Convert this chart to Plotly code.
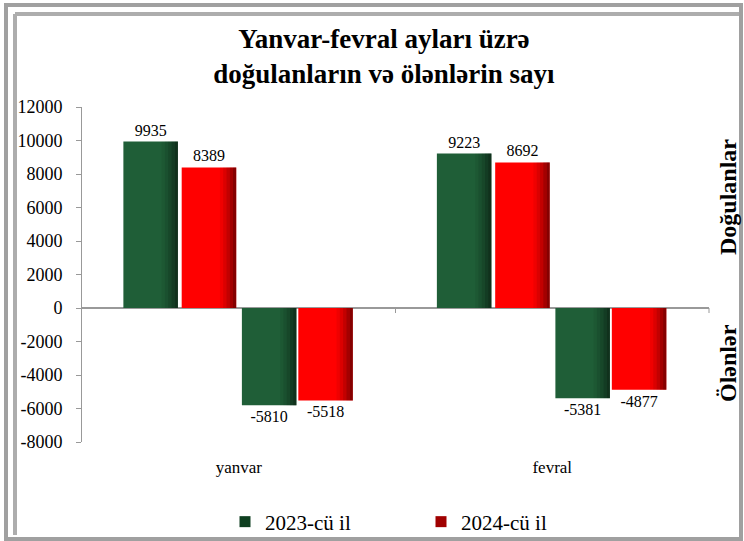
import plotly.graph_objects as go

# Monthly counts
months = ["yanvar", "fevral"]
births_2023 = [9935, 9223]
births_2024 = [8389, 8692]
deaths_2023 = [-5810, -5381]
deaths_2024 = [-5518, -4877]

year_labels = ["2023-cü il", "2024-cü il"]
y_ticks = [-8000, -6000, -4000, -2000, 0, 2000, 4000, 6000, 8000, 10000, 12000]

GREEN = "#1F5E37"
RED = "#FF0000"
SERIF = "Liberation Serif"

W, H = 744, 541
ML, MR, MT, MB = 82, 35, 107, 99

BAR_W = 0.174
OFFSETS = [-0.368, -0.182, 0.010, 0.190]


def px(x):
    return (x - ML) / (W - ML - MR)


def py(y):
    return (H - MB - y) / (H - MT - MB)


fig = go.Figure()

series = [
    (births_2023, GREEN, "2023-b"),
    (births_2024, RED, "2024-b"),
    (deaths_2023, GREEN, "2023-d"),
    (deaths_2024, RED, "2024-d"),
]

# shading strips along the right edge of every bar
SHADE = [(0.70, 0.06), (0.76, 0.14), (0.82, 0.24), (0.88, 0.36), (0.94, 0.48)]

for (vals, col, nm), off in zip(series, OFFSETS):
    fig.add_trace(go.Bar(
        x=months, y=vals, name=nm, showlegend=False,
        width=BAR_W, offset=off,
        marker=dict(color=col, line=dict(width=0)),
        text=[str(v) for v in vals], textposition="outside",
        textfont=dict(family=SERIF, size=16, color="black"),
        cliponaxis=False, hoverinfo="skip",
    ))
    for i, (start, alpha) in enumerate(SHADE):
        end = SHADE[i + 1][0] if i + 1 < len(SHADE) else 1.0
        fig.add_trace(go.Bar(
            x=months, y=vals, showlegend=False,
            width=BAR_W * (end - start), offset=off + BAR_W * start,
            marker=dict(color=f"rgba(0,0,0,{alpha})", line=dict(width=0)),
            hoverinfo="skip",
        ))

# legend entries
for lab, col in zip(year_labels, ["#0F3F20", "#A00000"]):
    fig.add_trace(go.Scatter(
        x=[None], y=[None], mode="markers", name=lab,
        marker=dict(symbol="square", size=11, color=col),
    ))

shapes = [
    # category divider ticks on the zero line
    dict(type="line", xref="paper", yref="y", x0=0.5, x1=0.5, y0=0, y1=-300,
         line=dict(color="#999999", width=1)),
    dict(type="line", xref="paper", yref="y", x0=1, x1=1, y0=0, y1=-300,
         line=dict(color="#999999", width=1)),
    # frame
    dict(type="rect", xref="paper", yref="paper",
         x0=px(6), x1=px(741), y0=py(5), y1=py(539),
         line=dict(color="#A0A0A0", width=4)),
    dict(type="line", xref="paper", yref="paper",
         x0=px(15), x1=px(15), y0=py(14), y1=py(535),
         line=dict(color="#ADADAD", width=4)),
    dict(type="line", xref="paper", yref="paper",
         x0=px(15), x1=px(739), y0=py(14), y1=py(14),
         line=dict(color="#ADADAD", width=4)),
]

annotations = [
    dict(text="Doğulanlar", xref="paper", yref="paper", x=px(728), y=py(197),
         xanchor="center", yanchor="middle",
         textangle=-90, showarrow=False,
         font=dict(family=SERIF, size=24, color="black", weight="bold")),
    dict(text="Ölənlər", xref="paper", yref="paper", x=px(728), y=py(363),
         xanchor="center", yanchor="middle",
         textangle=-90, showarrow=False,
         font=dict(family=SERIF, size=24, color="black", weight="bold")),
]

fig.update_layout(
    width=W, height=H,
    margin=dict(l=ML, r=MR, t=MT, b=MB, autoexpand=False),
    paper_bgcolor="white", plot_bgcolor="white",
    font=dict(family=SERIF, color="black"),
    barmode="overlay",
    title=dict(
        text="Yanvar-fevral ayları üzrə<br>doğulanların və ölənlərin sayı",
        x=0.516, xanchor="center", y=1 - 48 / H, yanchor="middle",
        font=dict(family=SERIF, size=27, color="black", weight="bold"),
    ),
    xaxis=dict(
        showline=False, showgrid=False, zeroline=False, ticks="",
        tickfont=dict(family=SERIF, size=17, color="black"),
        ticklabelstandoff=13, automargin=False,
    ),
    yaxis=dict(
        range=[-8000, 12000], tickvals=y_ticks, ticktext=[str(v) for v in y_ticks],
        showgrid=False, showline=True, linecolor="#999999", linewidth=1,
        ticks="outside", ticklen=5, tickcolor="#999999",
        zeroline=True, zerolinecolor="#999999", zerolinewidth=1.5,
        tickfont=dict(family=SERIF, size=18, color="black"),
        ticklabelstandoff=10, automargin=False,
    ),
    legend=dict(
        orientation="h", x=px(225), xanchor="left", y=py(522), yanchor="middle",
        font=dict(family=SERIF, size=21, color="black"),
        entrywidth=151, entrywidthmode="pixels", itemwidth=30,
        bgcolor="rgba(0,0,0,0)",
    ),
    shapes=shapes,
    annotations=annotations,
)

fig.write_html("out.html")
